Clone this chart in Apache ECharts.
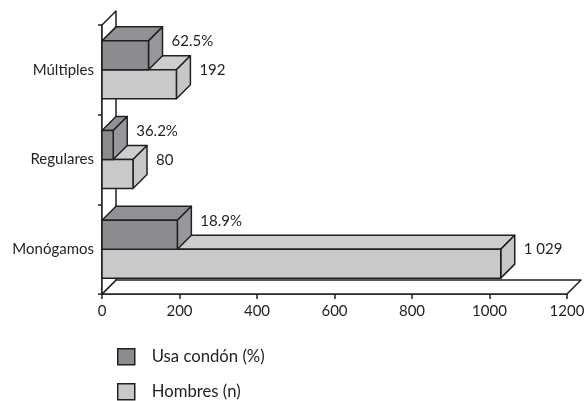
<!DOCTYPE html>
<html>
<head>
<meta charset="utf-8">
<script src="https://cdn.jsdelivr.net/npm/echarts@6/dist/echarts.min.js"></script>
<style>
  html, body { margin: 0; padding: 0; background: #fff; }
  #chart { width: 584px; height: 401px; }
</style>
</head>
<body>
<div id="chart"></div>
<script>
// Categories listed bottom-up, as the category axis draws them
const categories = ['Monógamos', 'Regulares', 'Múltiples'];
const hombresN = [1029, 80, 192];
const hombresLabels = ['1 029', '80', '192'];
const usaCondonPct = [18.9, 36.2, 62.5];
const xTicks = [0, 200, 400, 600, 800, 1000, 1200];

const seriesNames = ['Usa condón (%)', 'Hombres (n)'];

// Styling
const FONT = 'Lato';
const INK = '#231f20';
const DEPTH = 14;            // 3D extrusion, px
const BAR_RATIO = 0.323;     // each bar's height as share of the category band
const darkColors = { front: '#8b8c8f', top: '#909194', side: '#97989b' };
const lightColors = { front: '#c8c9cb', top: '#cdced0', side: '#c6c7c9' };

// Dark bar length is the number of men using condoms: n * pct / 100
const condonCount = hombresN.map((n, i) => n * usaCondonPct[i] / 100);
const condonLabels = usaCondonPct.map(p => p.toFixed(1) + '%');

function boxBar(position, colors, labels) {
  return function (params, api) {
    const v = api.value(0);
    const ci = api.value(1);
    const base = api.coord([0, ci]);
    const end = api.coord([v, ci]);
    const h = api.size([0, 1])[1] * BAR_RATIO;
    const x0 = base[0], x1 = end[0];
    const y0 = position === 'upper' ? base[1] - h : base[1];
    const y1 = y0 + h;
    const D = DEPTH;
    const line = { stroke: INK, lineWidth: 1.5, lineJoin: 'round' };
    return {
      type: 'group',
      children: [
        { type: 'polygon', shape: { points: [[x0, y0], [x0 + D, y0 - D], [x1 + D, y0 - D], [x1, y0]] },
          style: Object.assign({ fill: colors.top }, line) },
        { type: 'polygon', shape: { points: [[x1, y0], [x1 + D, y0 - D], [x1 + D, y1 - D], [x1, y1]] },
          style: Object.assign({ fill: colors.side }, line) },
        { type: 'rect', shape: { x: x0, y: y0, width: x1 - x0, height: h },
          style: Object.assign({ fill: colors.front }, line) },
        { type: 'text',
          style: { text: labels[params.dataIndex], x: x1 + D + 9, y: y0 - D + h / 2,
                   verticalAlign: 'middle', align: 'left',
                   fontFamily: FONT, fontSize: 15, fill: INK } }
      ]
    };
  };
}

// Floor and left wall of the 3D plot box
function frame(params) {
  const cs = params.coordSys;
  const D = DEPTH;
  const xl = cs.x, xr = cs.x + cs.width, yt = cs.y, yb = cs.y + cs.height;
  const line = { stroke: INK, lineWidth: 1.5, fill: '#ffffff', lineJoin: 'round' };
  return {
    type: 'group',
    children: [
      { type: 'polygon', shape: { points: [[xl, yb], [xr, yb], [xr + D, yb - D], [xl + D, yb - D]] }, style: line },
      { type: 'polygon', shape: { points: [[xl, yb], [xl, yt], [xl + D, yt - D], [xl + D, yb - D]] }, style: line }
    ]
  };
}

// One legend block per series, stacked vertically
function legendBlock(name, color, top) {
  return {
    orient: 'vertical',
    left: 117,
    top: top,
    padding: 0,
    itemWidth: 17,
    itemHeight: 16,
    icon: 'rect',
    selectedMode: false,
    textStyle: { fontSize: 16.7, color: INK, fontFamily: FONT, padding: [0, 0, 0, 12] },
    data: [{ name: name, itemStyle: { color: color, borderColor: INK, borderWidth: 1.5 } }]
  };
}

const chart = echarts.init(document.getElementById('chart'), null, { renderer: 'canvas' });

chart.setOption({
  animation: false,
  backgroundColor: '#ffffff',
  textStyle: { fontFamily: FONT, color: INK },
  grid: { left: 102, top: 25, width: 465, height: 269, containLabel: false, outerBoundsMode: 'none' },
  xAxis: {
    type: 'value',
    min: xTicks[0],
    max: xTicks[xTicks.length - 1],
    interval: xTicks[1] - xTicks[0],
    axisLine: { show: true, lineStyle: { color: INK, width: 1.5 } },
    axisTick: { show: true, length: 5, lineStyle: { color: INK, width: 1.5 } },
    axisLabel: { margin: 10, fontSize: 15, color: INK, fontFamily: FONT,
                 formatter: v => String(v) },
    splitLine: { show: false }
  },
  yAxis: {
    type: 'category',
    data: categories,
    axisLine: { show: true, lineStyle: { color: INK, width: 1.5 } },
    axisTick: { show: true, length: 4, lineStyle: { color: INK, width: 1.5 } },
    axisLabel: { margin: 8, fontSize: 15, color: INK, fontFamily: FONT },
    splitLine: { show: false }
  },
  legend: [
    legendBlock(seriesNames[0], darkColors.front, 348),
    legendBlock(seriesNames[1], lightColors.front, 383)
  ],
  series: [
    {
      type: 'custom',
      name: 'frame',
      silent: true,
      z: 1,
      renderItem: frame,
      data: [[0, 0]]
    },
    {
      type: 'custom',
      name: seriesNames[1],
      z: 2,
      itemStyle: { color: lightColors.front },
      renderItem: boxBar('lower', lightColors, hombresLabels),
      encode: { x: 0, y: 1 },
      data: hombresN.map((v, i) => [v, i])
    },
    {
      type: 'custom',
      name: seriesNames[0],
      z: 3,
      itemStyle: { color: darkColors.front },
      renderItem: boxBar('upper', darkColors, condonLabels),
      encode: { x: 0, y: 1 },
      data: condonCount.map((v, i) => [v, i])
    }
  ]
});
</script>
</body>
</html>
